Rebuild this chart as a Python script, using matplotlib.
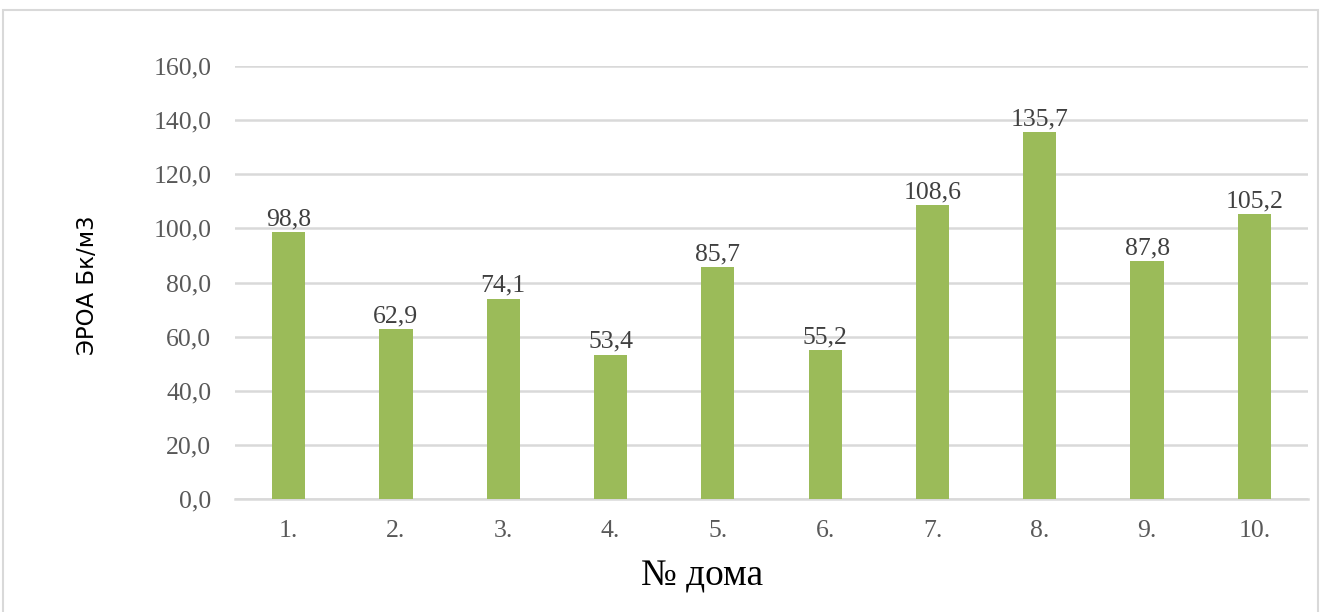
import numpy as np
import matplotlib.pyplot as plt
from matplotlib.patches import Rectangle

# номера домов и значения ЭРОА
doma = ['1.', '2.', '3.', '4.', '5.', '6.', '7.', '8.', '9.', '10.']
eroa = [98.8, 62.9, 74.1, 53.4, 85.7, 55.2, 108.6, 135.7, 87.8, 105.2]
y_ticks = [0, 20, 40, 60, 80, 100, 120, 140, 160]

fig = plt.figure(figsize=(13.23, 6.12), dpi=100)
ax = fig.add_axes([0.1776, 0.1846, 0.8111, 0.7074])

x = np.arange(len(doma))
ax.bar(x, eroa, width=0.31, color='#9BBB59', zorder=3)

for xi, v in zip(x, eroa):
    ax.text(xi, v + 0.6, '{:.1f}'.format(v).replace('.', ','), ha='center', va='bottom',
            fontsize=18.5, family='Liberation Serif', color='#404040', zorder=4)

ax.set_ylim(0, 160)
ax.set_xlim(-0.5, len(doma) - 0.5)
ax.set_yticks(y_ticks)
ax.set_yticklabels(['{:.1f}'.format(t).replace('.', ',') for t in y_ticks],
                   family='Liberation Serif', fontsize=18.5, color='#595959')
ax.set_xticks(x)
ax.set_xticklabels(doma, family='Liberation Serif', fontsize=18.5, color='#595959')
ax.tick_params(length=0, pad=15)
ax.tick_params(axis='y', pad=17)

ax.yaxis.grid(True, color='#d9d9d9', linewidth=1.8, zorder=0)
for s in ['top', 'right', 'left']:
    ax.spines[s].set_visible(False)
ax.spines['bottom'].set_color('#d9d9d9')
ax.spines['bottom'].set_linewidth(1.8)

fig.text(0.066, 0.534, 'ЭРОА Бк/м3', rotation=90, ha='center', va='center',
         fontsize=16.5, family='DejaVu Sans', color='black')
fig.text(0.531, 0.058, '№ дома', ha='center', va='center',
         fontsize=27, family='Liberation Serif', color='black')

# рамка диаграммы
fig.add_artist(Rectangle((0.002, -0.05), 0.9945, 1.034, transform=fig.transFigure,
                         fill=False, edgecolor='#d9d9d9', linewidth=1.5))

fig.savefig('out.png', dpi=100)
